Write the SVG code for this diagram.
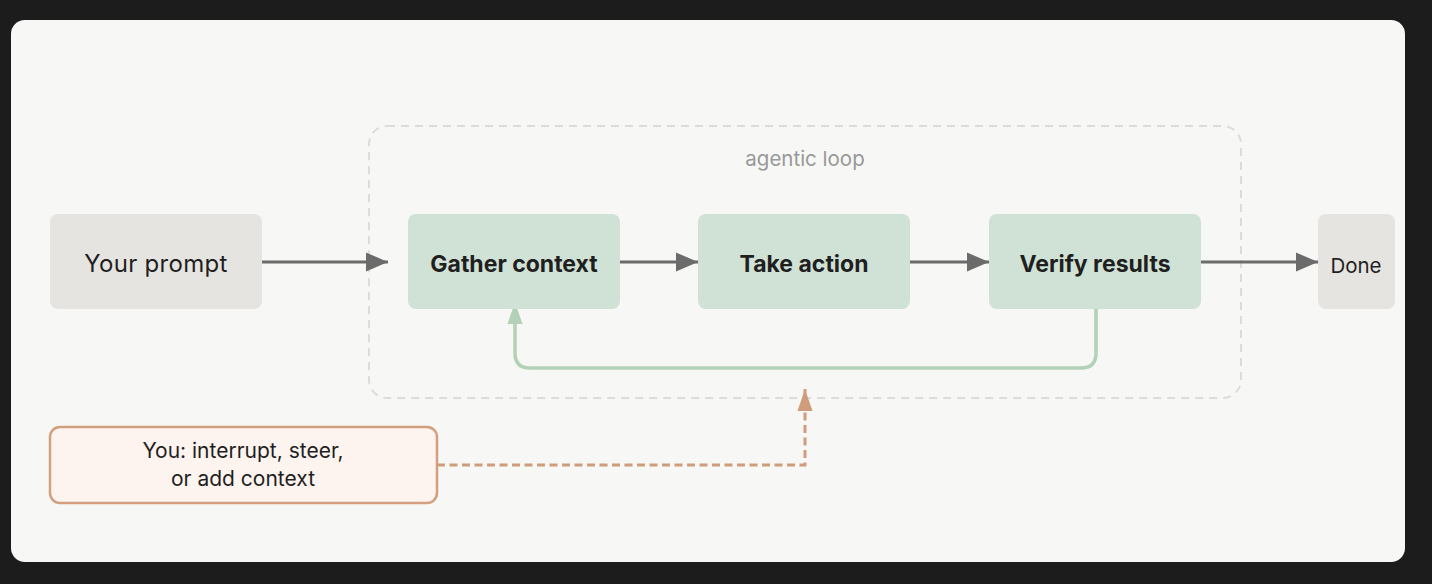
<svg xmlns="http://www.w3.org/2000/svg" width="1432" height="584" viewBox="0 0 1432 584">
<defs>
<style>
.t{font-family:"Inter","Liberation Sans",sans-serif;fill:#1f1f1f;text-anchor:middle;dominant-baseline:central}
.b{font-weight:700;font-size:23px}
.step{fill:#d0e1d5}
.grey{fill:#e5e4e0}
.arr{stroke:#6b6b6b;stroke-width:3;fill:none}
</style>
<marker id="ah" viewBox="0 0 22 20" refX="22" refY="10" markerWidth="22" markerHeight="20" markerUnits="userSpaceOnUse" orient="auto"><path d="M0,0.5 L22,10 L0,19.5 Z" fill="#6b6b6b"/></marker>
<marker id="ag" viewBox="0 0 22 16" refX="22" refY="8" markerWidth="22" markerHeight="16" markerUnits="userSpaceOnUse" orient="auto"><path d="M0,0.5 L22,8 L0,15.5 Z" fill="#b3d1b7"/></marker>
<marker id="ao" viewBox="0 0 22 16" refX="22" refY="8" markerWidth="22" markerHeight="16" markerUnits="userSpaceOnUse" orient="auto"><path d="M0,0.5 L22,8 L0,15.5 Z" fill="#cf9d7b"/></marker>
</defs>
<rect width="1432" height="584" fill="#1c1c1c"/>
<rect x="11" y="20" width="1394" height="542" rx="14" fill="#f7f7f5"/>
<g id="loop">
<rect x="369" y="126" width="872" height="272" rx="18" fill="none" stroke="#dcdcdc" stroke-width="2" stroke-dasharray="8 6"/>
<text class="t" x="805" y="158" style="font-size:20.5px;fill:#999">agentic loop</text>
</g>
<g id="connectors">
<line class="arr" x1="262" y1="262" x2="388" y2="262" marker-end="url(#ah)"/>
<line class="arr" x1="620" y1="262" x2="698" y2="262" marker-end="url(#ah)"/>
<line class="arr" x1="910" y1="262" x2="989" y2="262" marker-end="url(#ah)"/>
<line class="arr" x1="1201" y1="262" x2="1318" y2="262" marker-end="url(#ah)"/>
<path d="M1096,309 V353 Q1096,368 1081,368 H530 Q515,368 515,353 V302" fill="none" stroke="#b3d1b7" stroke-width="3.5" marker-end="url(#ag)"/>
<path d="M437,465 H805 V389" fill="none" stroke="#cf9d7b" stroke-width="3" stroke-dasharray="8 4.5" marker-end="url(#ao)"/>
</g>
<g id="prompt">
<rect class="grey" x="50" y="214" width="212" height="95" rx="8"/>
<text class="t" x="156" y="263" style="font-size:24px;letter-spacing:0.3px">Your prompt</text>
</g>
<g id="gather">
<rect class="step" x="408" y="214" width="212" height="95" rx="8"/>
<text class="t b" x="514" y="264">Gather context</text>
</g>
<g id="take">
<rect class="step" x="698" y="214" width="212" height="95" rx="8"/>
<text class="t b" x="804" y="264">Take action</text>
</g>
<g id="verify">
<rect class="step" x="989" y="214" width="212" height="95" rx="8"/>
<text class="t b" x="1095" y="264">Verify results</text>
</g>
<g id="done">
<rect class="grey" x="1318" y="214" width="77" height="95" rx="8"/>
<text class="t" x="1356" y="265" style="font-size:20.5px">Done</text>
</g>
<g id="you">
<rect x="50" y="427" width="387" height="76" rx="10" fill="#fdf3ef" stroke="#d2a07f" stroke-width="2.5"/>
<text class="t" x="243" y="450" style="font-size:21px">You: interrupt, steer,</text>
<text class="t" x="243" y="478" style="font-size:21px">or add context</text>
</g>
</svg>
